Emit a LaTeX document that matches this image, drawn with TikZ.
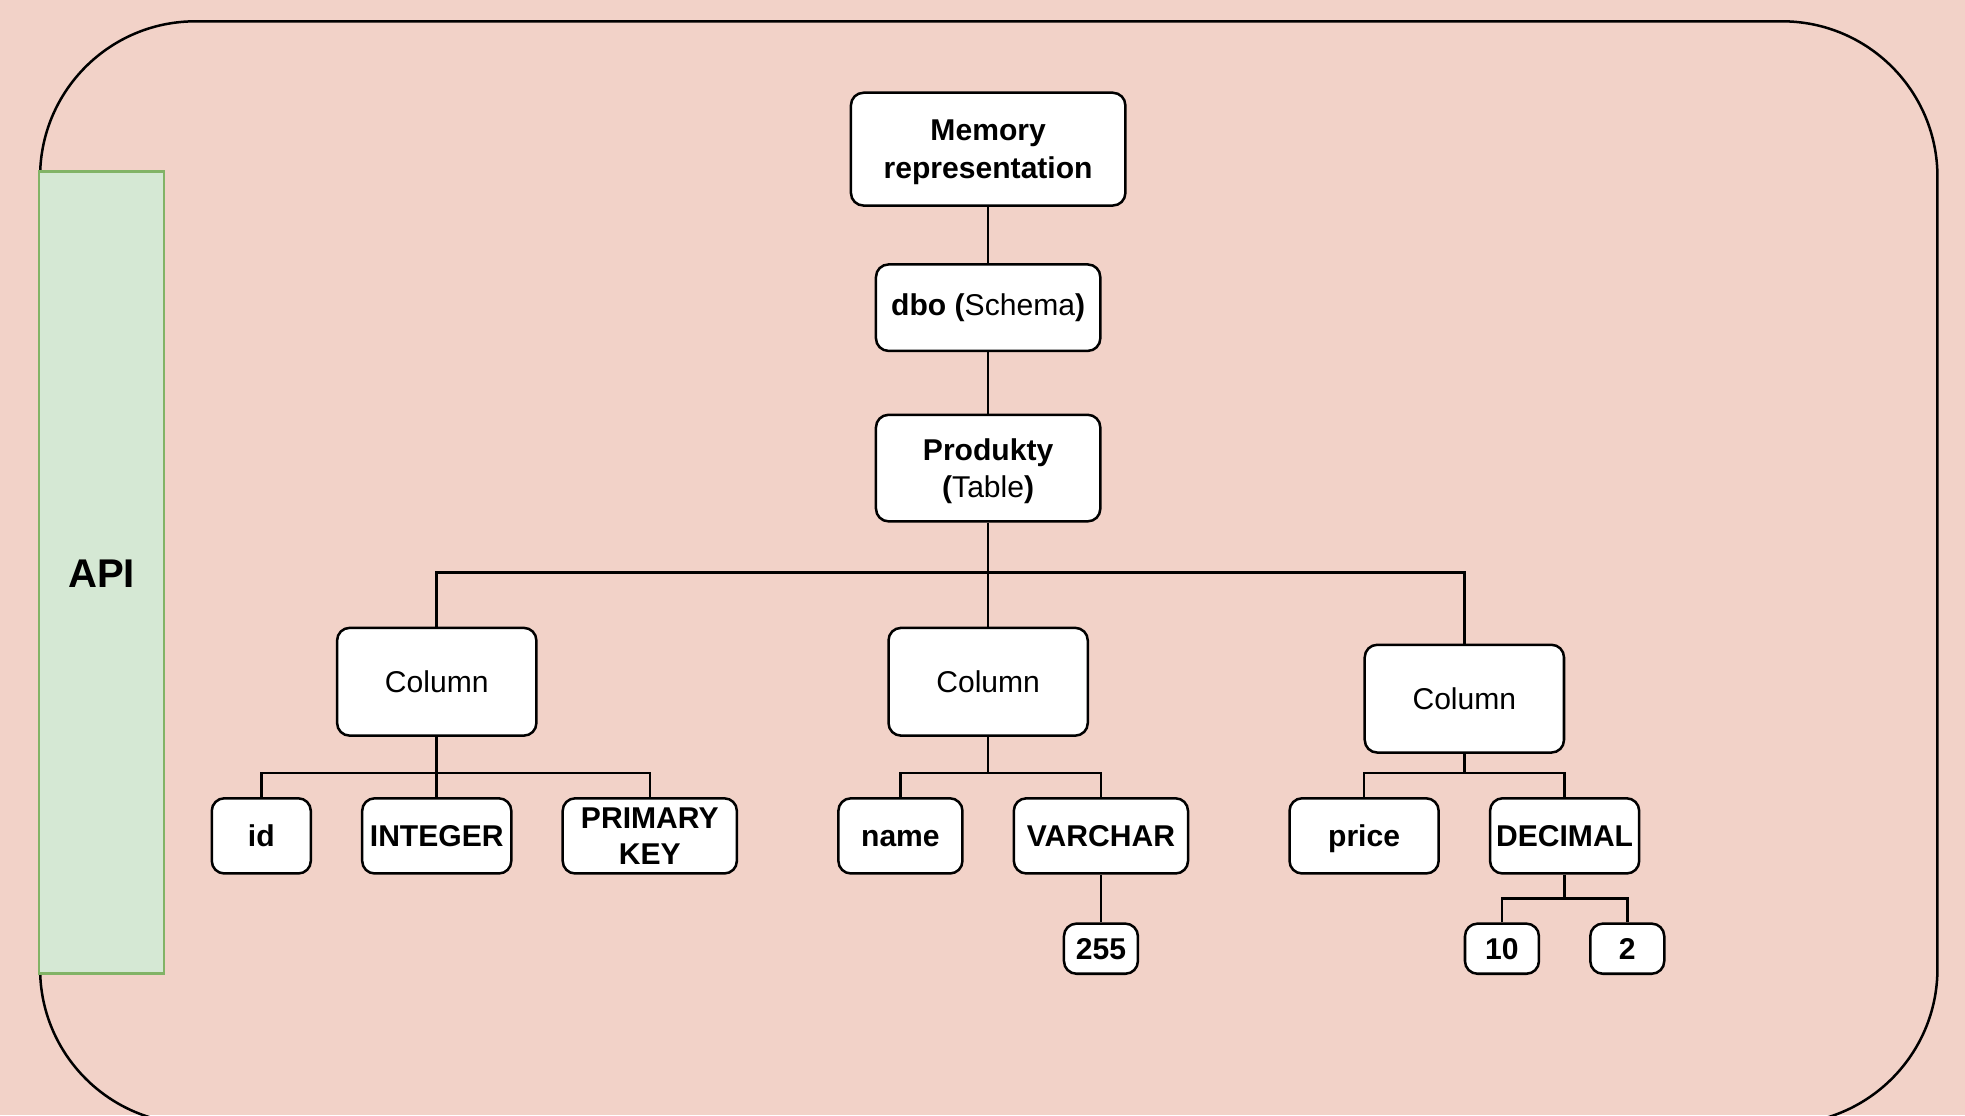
\documentclass[tikz,border=0pt]{standalone}
\usepackage{fontspec}
\setmainfont{Liberation Sans}
\definecolor{bgpink}{HTML}{F2D2C8}
\definecolor{apigreen}{HTML}{D5E8D4}
\definecolor{apiedge}{HTML}{82B366}
\begin{document}
\begin{tikzpicture}[x=0.5pt, y=-0.5pt, line width=1pt, font=\fontsize{12}{15}\selectfont,
  box/.style = {draw, fill=white, rounded corners=5pt, align=center, inner sep=0pt},
  small/.style = {box, font=\fontsize{12}{15}\selectfont\bfseries, text height=8.6pt, text depth=0pt}]
\fill[bgpink] (0,0) rectangle (1568,890);
\useasboundingbox (0,0) rectangle (1568,890);
\clip (0,0) rectangle (1568,890);
\draw[rounded corners=62pt] (32,17) rectangle (1546,897);
\node[draw=apiedge, fill=apigreen, minimum width=50pt, minimum height=320pt, inner sep=0pt] (api) at (81,457) {};
\node[font=\fontsize{16}{19}\selectfont\bfseries] (apitxt) at (81,458) {API};
% top of the tree
\node[box, minimum width=109.5pt, minimum height=45pt, text depth=0pt, font=\fontsize{12}{15}\selectfont\bfseries] (mem) at (788.5,119) {Memory\\representation};
\node[box, minimum width=89.5pt, minimum height=34.5pt] (dbo) at (788.5,245.5) {\textbf{dbo (}Schema\textbf{)}};
\node[box, minimum width=89.5pt, minimum height=42.5pt, text depth=0pt] (prod) at (788.5,373.5) {\textbf{Produkty}\\\textbf{(}Table\textbf{)}};
% columns
\node[box, minimum width=79.5pt, minimum height=43pt] (col1) at (348.5,544) {Column};
\node[box, minimum width=79.5pt, minimum height=43pt] (col2) at (788.5,544) {Column};
\node[box, minimum width=79.5pt, minimum height=43pt] (col3) at (1168.5,557.5) {Column};
% leaves
\node[small, minimum width=39.5pt, minimum height=30pt] (id) at (208.5,667) {id};
\node[small, minimum width=59.5pt, minimum height=30pt] (int) at (348.5,667) {INTEGER};
\node[box, minimum width=69.5pt, minimum height=30pt, font=\fontsize{12}{14.5}\selectfont\bfseries] (pk) at (518.5,667) {PRIMARY\\KEY};
\node[small, minimum width=49.5pt, minimum height=30pt] (name) at (718.5,667) {name};
\node[small, minimum width=69.5pt, minimum height=30pt] (varchar) at (878.5,667) {VARCHAR};
\node[small, minimum width=59.5pt, minimum height=30pt] (price) at (1088.5,667) {price};
\node[small, minimum width=59.5pt, minimum height=30pt] (decimal) at (1248.5,667) {DECIMAL};
\node[small, minimum width=29.5pt, minimum height=20pt] (n255) at (878.5,757) {255};
\node[small, minimum width=29.5pt, minimum height=20pt] (n10) at (1198.5,757) {10};
\node[small, minimum width=29.5pt, minimum height=20pt] (n2) at (1298.5,757) {2};
% junctions
\coordinate (b1) at (788.5,457);
\coordinate (b2) at (348.5,617);
\coordinate (b3) at (788.5,617);
\coordinate (b4) at (1168.5,617);
\coordinate (b5) at (1248.5,717);
\draw (mem) -- (dbo);
\draw (dbo) -- (prod);
\draw (prod) -- (col2);
\draw (col1.north) |- (b1) -| (col3.north);
\draw (col1) -- (int);
\draw (id.north) |- (b2) -| (pk.north);
\draw (col2.south) -- (b3);
\draw (name.north) |- (b3) -| (varchar.north);
\draw (col3.south) -- (b4);
\draw (price.north) |- (b4) -| (decimal.north);
\draw (varchar) -- (n255);
\draw (decimal.south) -- (b5);
\draw (n10.north) |- (b5) -| (n2.north);
\end{tikzpicture}
\end{document}
